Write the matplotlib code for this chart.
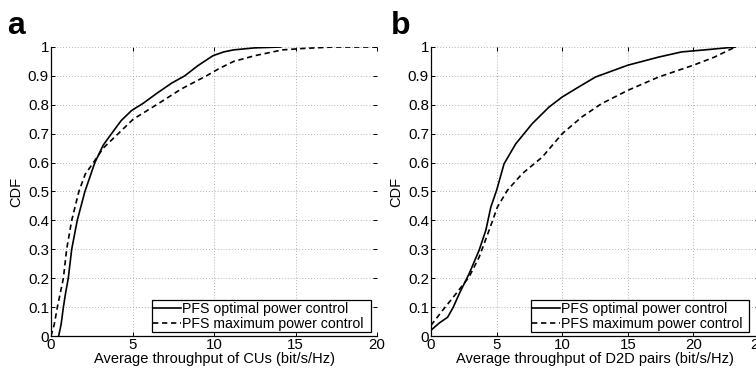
import numpy as np
import matplotlib.pyplot as plt

plt.rcParams['font.family'] = ['Liberation Sans', 'DejaVu Sans']
plt.rcParams['font.size'] = 10

# --- (a) CUs throughput CDF ---
cu_opt_x = [0.47, 0.62, 0.76, 0.9, 1.06, 1.27, 1.61, 2.08, 2.69, 3.2, 3.71, 4.3, 4.94, 5.65, 6.5, 7.4, 8.2, 9.0, 9.94, 10.6, 11.2, 12.5, 14.1]
cu_opt_y = [0.0, 0.04, 0.1, 0.15, 0.2, 0.3, 0.4, 0.5, 0.6, 0.66, 0.7, 0.745, 0.78, 0.805, 0.84, 0.875, 0.9, 0.935, 0.97, 0.983, 0.99, 0.997, 1.0]
cu_max_x = [0.0, 0.2, 0.39, 0.76, 0.96, 1.27, 1.71, 2.1, 2.6, 3.2, 4.12, 5.04, 6.47, 8.0, 9.53, 10.3, 11.2, 12.5, 14.2, 15.5, 17.3, 20.0]
cu_max_y = [0.0, 0.04, 0.1, 0.2, 0.3, 0.4, 0.5, 0.56, 0.6, 0.65, 0.7, 0.75, 0.8, 0.855, 0.9, 0.925, 0.95, 0.97, 0.99, 0.995, 1.0, 1.0]

# --- (b) D2D pairs throughput CDF ---
d2d_opt_x = [0.0, 0.63, 1.27, 1.7, 2.15, 2.9, 3.67, 4.18, 4.56, 5.0, 5.57, 6.46, 7.72, 8.99, 10.0, 11.27, 12.53, 15.0, 17.34, 19.1, 21.1, 23.2]
d2d_opt_y = [0.02, 0.045, 0.065, 0.1, 0.146, 0.215, 0.297, 0.366, 0.446, 0.504, 0.596, 0.665, 0.735, 0.792, 0.827, 0.862, 0.896, 0.937, 0.965, 0.983, 0.991, 1.0]
d2d_max_x = [0.0, 0.89, 1.9, 2.9, 3.67, 4.43, 5.06, 5.82, 6.96, 8.48, 10.0, 11.5, 13.0, 15.0, 17.34, 20.0, 21.6, 23.2]
d2d_max_y = [0.037, 0.089, 0.146, 0.204, 0.273, 0.366, 0.446, 0.504, 0.562, 0.619, 0.70, 0.758, 0.804, 0.85, 0.896, 0.937, 0.965, 1.0]

labels = ["PFS optimal power control", "PFS maximum power control"]

fig = plt.figure(figsize=(7.56, 3.69), dpi=100)
W, H = 756, 369


def px_axes(left, right, top, bottom):
    return fig.add_axes([left / W, (H - bottom) / H, (right - left) / W, (bottom - top) / H])


def style(ax, xmax, xticks, xlabel, legend_box):
    ax.set_xlim(0, xmax)
    ax.set_ylim(0, 1)
    ax.set_xticks(xticks)
    ax.set_yticks(np.arange(0, 1.01, 0.1))
    ax.set_yticklabels(["0", "0.1", "0.2", "0.3", "0.4", "0.5", "0.6", "0.7", "0.8", "0.9", "1"])
    ax.grid(True, color="#999999", linestyle=(0, (1, 2.5)), linewidth=0.6)
    ax.tick_params(direction="in", length=3, width=0.7, labelsize=10.8, pad=1.5, top=True, right=True)
    for side in ("top", "right"):
        ax.spines[side].set_visible(False)
    for side in ("left", "bottom"):
        ax.spines[side].set_linewidth(0.9)
    ax.set_xlabel(xlabel, fontsize=10.5, labelpad=0)
    ax.set_ylabel("CDF", fontsize=10.5, labelpad=3)
    leg = ax.legend(labels, loc="lower left", bbox_to_anchor=legend_box, mode="expand",
                    fontsize=10.2, handlelength=1.95, handletextpad=0.1, borderpad=0.1,
                    labelspacing=0.05, borderaxespad=0, fancybox=False, framealpha=1)
    leg.get_frame().set_edgecolor("black")
    leg.get_frame().set_linewidth(0.9)


dash = (0, (3.2, 2.2))

ax1 = px_axes(51, 377, 47, 336)
ax1.plot(cu_opt_x, cu_opt_y, color="black", linewidth=1.2)
ax1.plot(cu_max_x, cu_max_y, color="black", linewidth=1.2, linestyle=dash)
style(ax1, 20, [0, 5, 10, 15, 20], "Average throughput of CUs (bit/s/Hz)",
      ((152 - 51) / 326, 4 / 289, (371 - 152) / 326, 38 / 289))

ax2 = px_axes(431, 759, 47, 336)
ax2.plot(d2d_opt_x, d2d_opt_y, color="black", linewidth=1.2)
ax2.plot(d2d_max_x, d2d_max_y, color="black", linewidth=1.2, linestyle=dash)
style(ax2, 25, [0, 5, 10, 15, 20, 25], "Average throughput of D2D pairs (bit/s/Hz)",
      ((531 - 431) / 328, 4 / 289, (749 - 531) / 328, 38 / 289))

fig.text(7 / W, 1 - 34 / H, "a", fontsize=23, fontweight="bold", va="baseline")
fig.text(391 / W, 1 - 34 / H, "b", fontsize=23, fontweight="bold", va="baseline")

fig.savefig("out.png", dpi=100)
